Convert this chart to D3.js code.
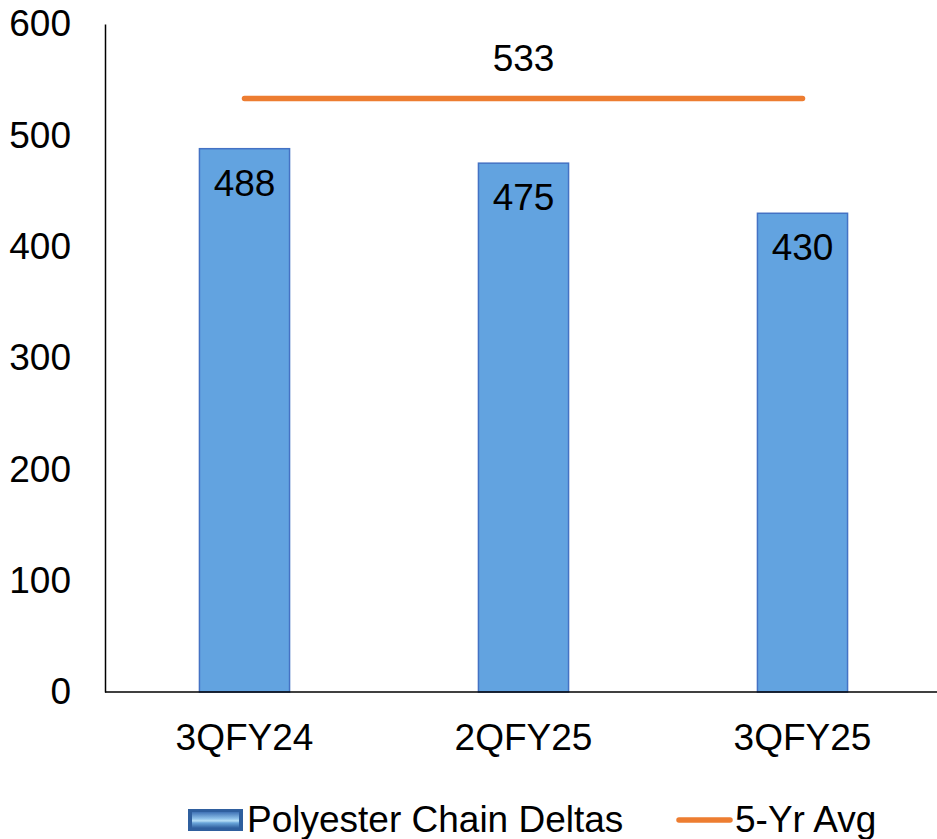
<!DOCTYPE html>
<html>
<head>
<meta charset="utf-8">
<script src="https://cdn.jsdelivr.net/npm/d3@7"></script>
<style>
  html, body { margin: 0; padding: 0; background: #fff; }
  svg { display: block; font-family: "Liberation Sans", Arial, sans-serif; }
</style>
</head>
<body>
<svg id="chart" width="937" height="839"></svg>
<script>
// Quarterly polyester chain deltas against the five-year average
const categories = ["3QFY24", "2QFY25", "3QFY25"];
const deltas = [488, 475, 430];
const avgValue = 533;
const yTicks = [0, 100, 200, 300, 400, 500, 600];
const seriesNames = ["Polyester Chain Deltas", "5-Yr Avg"];

const svg = d3.select("#chart");
const W = 937, H = 839;
const plot = { left: 105, right: 942, top: 24, bottom: 692 };
const fontSize = 37;

const x = d3.scaleBand()
  .domain(categories)
  .range([plot.left, plot.right])
  .paddingInner(0.677)
  .paddingOuter(0.3385);

const y = d3.scaleLinear().domain([0, 600]).range([plot.bottom, plot.top]);

// Gradient used by the legend swatch
const defs = svg.append("defs");
const g1 = defs.append("linearGradient").attr("id", "swatchGrad")
  .attr("x1", 0).attr("y1", 0).attr("x2", 0).attr("y2", 1);
g1.append("stop").attr("offset", "0%").attr("stop-color", "#3f72b5");
g1.append("stop").attr("offset", "42%").attr("stop-color", "#8fc2ea");
g1.append("stop").attr("offset", "55%").attr("stop-color", "#b8e0f6");
g1.append("stop").attr("offset", "68%").attr("stop-color", "#6aa6da");
g1.append("stop").attr("offset", "100%").attr("stop-color", "#2f5f9e");

// Bars
svg.append("g").selectAll("rect")
  .data(deltas)
  .join("rect")
  .attr("x", (d, i) => x(categories[i]))
  .attr("y", d => y(d))
  .attr("width", x.bandwidth())
  .attr("height", d => y(0) - y(d))
  .attr("fill", "#62a3e0")
  .attr("stroke", "#4472c4")
  .attr("stroke-width", 1.5);

// Value labels inside the bars
svg.append("g").selectAll("text")
  .data(deltas)
  .join("text")
  .attr("x", (d, i) => x(categories[i]) + x.bandwidth() / 2)
  .attr("y", d => y(d) + 47)
  .attr("text-anchor", "middle")
  .attr("font-size", fontSize)
  .attr("fill", "#000")
  .text(d => d);

// Axes
const yAxis = d3.axisLeft(y).tickValues(yTicks).tickSize(0).tickPadding(34);
const yg = svg.append("g").attr("transform", `translate(${plot.left},0)`).call(yAxis);
yg.select(".domain").attr("stroke", "#000").attr("stroke-width", 1.5);
yg.selectAll("text").attr("font-size", fontSize).attr("fill", "#000")
  .attr("font-family", "Liberation Sans, Arial, sans-serif");

const xAxis = d3.axisBottom(x).tickSize(0).tickPadding(32);
const xg = svg.append("g").attr("transform", `translate(0,${plot.bottom})`).call(xAxis);
xg.select(".domain").attr("stroke", "#000").attr("stroke-width", 1.5)
  .attr("d", `M${plot.left},0H${W + 10}`);
xg.selectAll("text").attr("font-size", fontSize).attr("fill", "#000")
  .attr("font-family", "Liberation Sans, Arial, sans-serif");

// Five-year average line, spanning first to last category centre
const cx = c => x(c) + x.bandwidth() / 2;
const avgData = categories.map(c => ({ c, v: avgValue }));
svg.append("path")
  .datum(avgData)
  .attr("d", d3.line().x(d => cx(d.c)).y(d => y(d.v)))
  .attr("fill", "none")
  .attr("stroke", "#ed7d31")
  .attr("stroke-width", 5.5)
  .attr("stroke-linecap", "round");

svg.append("text")
  .attr("x", cx(categories[1]))
  .attr("y", y(avgValue) - 28)
  .attr("text-anchor", "middle")
  .attr("font-size", fontSize)
  .attr("fill", "#000")
  .text(avgValue);

// Legend
const leg = svg.append("g");
leg.append("rect").attr("x", 188).attr("y", 809).attr("width", 55).attr("height", 22)
  .attr("fill", "#2f5f9e");
leg.append("rect").attr("x", 192).attr("y", 812).attr("width", 47).attr("height", 16)
  .attr("fill", "url(#swatchGrad)");
leg.append("text").attr("x", 247).attr("y", 832).attr("font-size", fontSize)
  .attr("fill", "#000").text(seriesNames[0]);
leg.append("line").attr("x1", 679).attr("x2", 730).attr("y1", 820).attr("y2", 820)
  .attr("stroke", "#ed7d31").attr("stroke-width", 5.5).attr("stroke-linecap", "round");
leg.append("text").attr("x", 735).attr("y", 832).attr("font-size", fontSize)
  .attr("fill", "#000").text(seriesNames[1]);
</script>
</body>
</html>
